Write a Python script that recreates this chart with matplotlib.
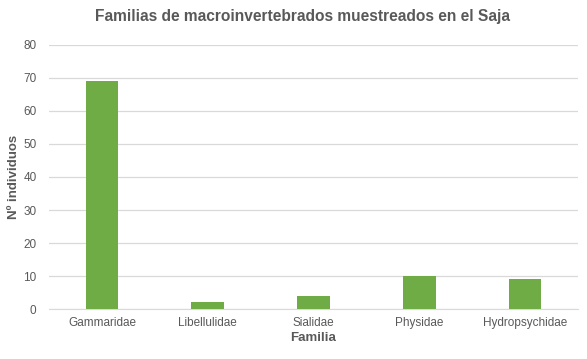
import matplotlib.pyplot as plt
import numpy as np

familias = ['Gammaridae', 'Libellulidae', 'Sialidae', 'Physidae', 'Hydropsychidae']
individuos = [69, 2, 4, 10, 9]
yticks = [0, 10, 20, 30, 40, 50, 60, 70, 80]

gris = '#595959'
plt.rcParams['font.family'] = ['Liberation Sans', 'DejaVu Sans']

fig = plt.figure(figsize=(5.87, 3.59), dpi=100)
ax = fig.add_axes([0.0835, 0.139, 0.901, 0.736])

x = np.arange(len(familias))
ax.bar(x, individuos, width=0.31, color='#6FAC46', zorder=3)

ax.set_xlim(-0.5, len(familias) - 0.5)
ax.set_ylim(0, 80)
ax.set_yticks(yticks)
ax.set_xticks(x)
ax.set_xticklabels(familias)
ax.grid(axis='y', color='#d9d9d9', linewidth=0.9, zorder=0)
for s in ['top', 'right', 'left']:
    ax.spines[s].set_visible(False)
ax.spines['bottom'].set_color('#d9d9d9')
ax.tick_params(axis='x', length=0, labelsize=8.5, colors=gris, pad=6)
ax.tick_params(axis='y', length=0, labelsize=8.5, colors=gris, pad=9)

ax.set_xlabel('Familia', fontsize=9.5, fontweight='bold', color=gris, labelpad=2)
ax.set_ylabel('Nº individuos', fontsize=9.5, fontweight='bold', color=gris)
ax.yaxis.set_label_coords(-0.055, 0.5)
fig.suptitle('Familias de macroinvertebrados muestreados en el Saja',
             x=0.515, y=0.975, fontsize=11.2, fontweight='bold', color=gris)

fig.savefig('out.png', dpi=100)
